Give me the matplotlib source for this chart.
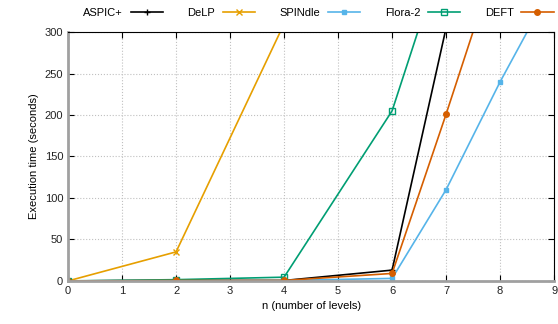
import numpy as np
import matplotlib.pyplot as plt

plt.rcParams['font.family'] = ['Liberation Sans', 'DejaVu Sans']
plt.rcParams['font.size'] = 8

# Dados (tempo de execução em segundos)
n = [0, 2, 4, 6, 7, 8, 9]
aspic = [0, 0.5, 0.5, 13, 305]
delp = [0, 35, 310]
spindle = [0, 0.5, 0.5, 3, 110, 240, 360]
flora = [0, 1.5, 4.5, 205, 405]
deft = [0, 0.5, 0.5, 9, 201, 400]

nomes = ['ASPIC+', 'DeLP', 'SPINdle', 'Flora-2', 'DEFT']
cores = ['#000000', '#e69f00', '#56b4e9', '#009e73', '#d55e00']
marcadores = ['+', 'x', 's', 's', 'o']
series = [aspic, delp, spindle, flora, deft]

fig = plt.figure(figsize=(5.58, 3.24), dpi=100)
ax = fig.add_axes([0.122, 0.133, 0.871, 0.768])

for y, nome, c, m in zip(series, nomes, cores, marcadores):
    x = n[:len(y)]
    if nome == 'Flora-2':
        ax.plot(x, y, '-', color=c, lw=1.2, marker=m, ms=4, mfc='none', mec=c, mew=1, label=nome)
    elif nome == 'SPINdle':
        ax.plot(x, y, '-', color=c, lw=1.2, marker=m, ms=3.5, label=nome)
    else:
        ax.plot(x, y, '-', color=c, lw=1.2, marker=m, ms=4, mew=1, label=nome)

ax.set_xlim(0, 9)
ax.set_ylim(0, 300)
ax.set_xticks(range(0, 10))
ax.set_yticks(range(0, 301, 50))
ax.grid(True, color='#c0c0c0', linestyle=':', lw=0.8)
ax.tick_params(direction='in', top=True, right=True, length=4, colors='black', labelcolor='#222222')
for s in ['left', 'bottom']:
    ax.spines[s].set_color('#a0a0a0')
    ax.spines[s].set_linewidth(2)
for s in ['top', 'right']:
    ax.spines[s].set_linewidth(0.8)

ax.set_xlabel('n (number of levels)')
ax.set_ylabel('Execution time (seconds)')

ax.legend(loc='center', bbox_to_anchor=(0.515, 1.076), ncol=5, frameon=False,
          markerfirst=False, handlelength=2.9, columnspacing=2.2, handletextpad=0.7,
          borderaxespad=0, borderpad=0)

fig.savefig('out.png', dpi=100)
